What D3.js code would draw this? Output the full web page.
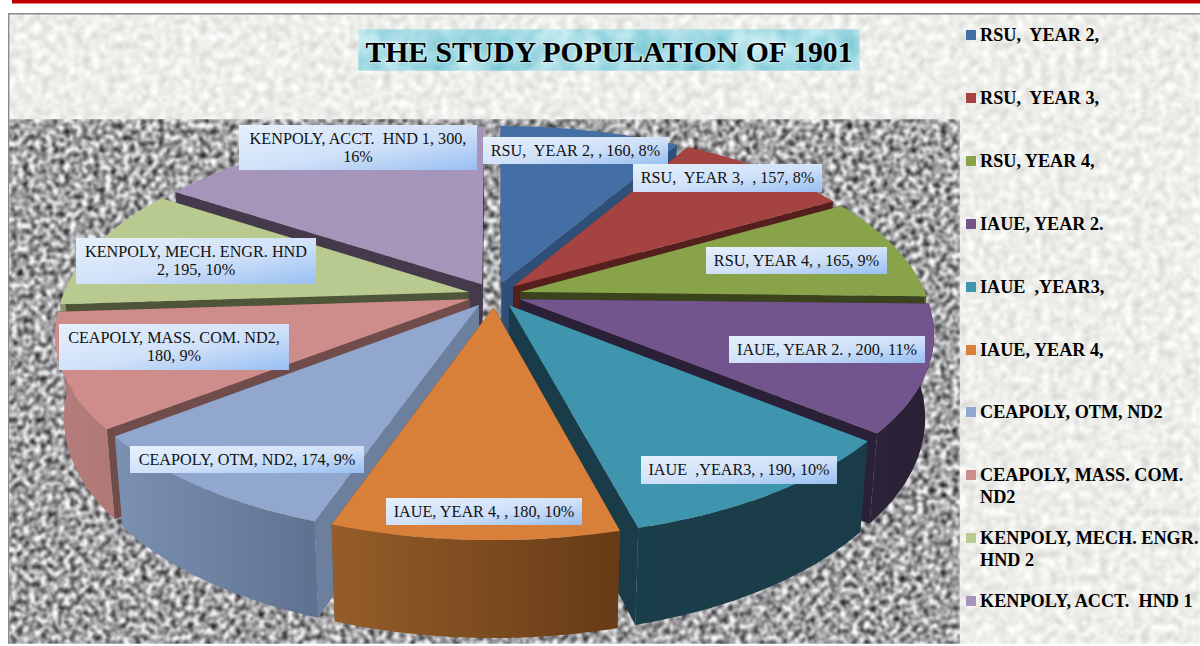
<!DOCTYPE html>
<html><head><meta charset="utf-8">
<script src="https://cdn.jsdelivr.net/npm/d3@7"></script>
<style>html,body{margin:0;padding:0;background:#fff;overflow:hidden}svg{display:block}text{white-space:pre;font-family:"Liberation Serif",serif}</style>
</head><body><div id="c"></div>
<script>
const categories=["RSU,  YEAR 2,","RSU,  YEAR 3,","RSU, YEAR 4,","IAUE, YEAR 2.","IAUE  ,YEAR3,","IAUE, YEAR 4,","CEAPOLY, OTM, ND2","CEAPOLY, MASS. COM. ND2","KENPOLY, MECH. ENGR. HND 2","KENPOLY, ACCT.  HND 1"];
const values=[160,157,165,200,190,180,174,180,195,300];
const percents=["8%","8%","9%","11%","10%","10%","9%","9%","10%","16%"];
const title="THE STUDY POPULATION OF 1901";
const legendLines=[["RSU,  YEAR 2,"],["RSU,  YEAR 3,"],["RSU, YEAR 4,"],["IAUE, YEAR 2."],["IAUE  ,YEAR3,"],["IAUE, YEAR 4,"],["CEAPOLY, OTM, ND2"],["CEAPOLY, MASS. COM.","ND2"],["KENPOLY, MECH. ENGR.","HND 2"],["KENPOLY, ACCT.  HND 1"]];
const labelLines=[["RSU,  YEAR 2, , 160, 8%"],["RSU,  YEAR 3,  , 157, 8%"],["RSU, YEAR 4, , 165, 9%"],["IAUE, YEAR 2. , 200, 11%"],["IAUE  ,YEAR3, , 190, 10%"],["IAUE, YEAR 4, , 180, 10%"],["CEAPOLY, OTM, ND2, 174, 9%"],["CEAPOLY, MASS. COM. ND2,","180, 9%"],["KENPOLY, MECH. ENGR. HND","2, 195, 10%"],["KENPOLY, ACCT.  HND 1, 300,","16%"]];
const topColors=["#436FA5","#A54340","#88A34A","#72558C","#3F94AE","#D87F39","#92A7CE","#CE8D8B","#B8CA8F","#A695BA"];
const edgeColors=["#2F4F78","#551F1D","#3A431C","#2A2037","#193C48","#6B3E18","#6C7F9C","#704C4B","#4F5638","#443A4C"];
const wallFrom=["#35598A","#7C3230","#667A37","#2C2239","#1A3E4A","#955D2A","#7B91B2","#B47C7A","#8C9A6C","#7C7090"];
const wallTo=["#2F4F78","#6B2A28","#56672E","#2A2036","#1A3C48","#673B16","#5F7190","#B07876","#7C8A5E","#6C6080"];
// layout
const W=1200,H=646,cx=494.5,cy=295,Rx=406,Ry=188,persp=.172,explode=.065,depth=80,converge=.98;
const labelBoxes=[[483,137,668,164],[633,164,822,192],[706,247,887,274],[729,336,925,363],[641,456,837,484],[386,498,582,525],[130,446,364,473],[59,324,289,370],[76,238,316,284],[239,125,477,170]];
const legendY=[35,98,161,224,287,350,412,475,538,601];

const svg=d3.select("#c").append("svg").attr("width",W).attr("height",H);
const defs=svg.append("defs");
function noise(id,freq,oct,seed,rm,gm,bm){
  const f=defs.append("filter").attr("id",id).attr("x",0).attr("y",0).attr("width","100%").attr("height","100%").attr("color-interpolation-filters","sRGB");
  f.append("feTurbulence").attr("type","fractalNoise").attr("baseFrequency",freq).attr("numOctaves",oct).attr("seed",seed);
  f.append("feColorMatrix").attr("type","matrix").attr("values",`${rm[0]} 0 0 0 ${rm[1]} ${gm[0]} 0 0 0 ${gm[1]} ${bm[0]} 0 0 0 ${bm[1]} 0 0 0 0 1`);
  f.append("feGaussianBlur").attr("stdDeviation",.8);
}
noise("paper",.12,3,4,[.26,.80],[.26,.80],[.26,.79]);
noise("grain",.17,3,9,[1.65,-.19],[1.65,-.19],[1.67,-.19]);
noise("teal",.035,3,5,[.55,.38],[.25,.74],[.2,.80]);
const lab=defs.append("linearGradient").attr("id","lab").attr("x1",0).attr("y1",0).attr("x2",1).attr("y2",1);
[[0,"#E6F0FC"],[.55,"#CFE0F8"],[1,"#97BFF2"]].forEach(s=>lab.append("stop").attr("offset",s[0]).attr("stop-color",s[1]));
categories.forEach((c,i)=>{
  const g=defs.append("linearGradient").attr("id","wall"+i).attr("x1",0).attr("y1",0).attr("x2",1).attr("y2",0);
  g.append("stop").attr("offset",0).attr("stop-color",wallFrom[i]);
  g.append("stop").attr("offset",1).attr("stop-color",wallTo[i]);
});

// page furniture
svg.append("rect").attr("x",12).attr("y",0).attr("width",W-12).attr("height",3.5).attr("fill","#C00000");
svg.append("rect").attr("x",8).attr("y",13).attr("width",W-8).attr("height",631).attr("fill","#eee").attr("filter","url(#paper)");
svg.append("path").attr("d",`M8.7,644V13.7H${W}`).attr("fill","none").attr("stroke","#8a8a8a").attr("stroke-width",1.4);
svg.append("rect").attr("x",9.5).attr("y",119).attr("width",950).attr("height",525).attr("fill","#999").attr("filter","url(#grain)");
svg.append("rect").attr("x",358).attr("y",29).attr("width",502).attr("height",42).attr("fill","#9cd").attr("filter","url(#teal)");
svg.append("text").attr("x",609).attr("y",62).attr("text-anchor","middle").attr("font-size",29.7).attr("font-weight",700).attr("fill","#000")
  .attr("stroke","#fff").attr("stroke-opacity",.3).attr("stroke-width",2.5).attr("paint-order","stroke").text(title);

// pie
const pie=d3.pie().sort(null).value(d=>d).startAngle(0).endAngle(2*Math.PI);
const arcs=pie(values);
const scaleU=d3.scaleLinear().domain([-1,1]).range([-Rx,Rx]);
const scaleV=d3.scaleLinear().domain([-1,1]).range([-Ry,Ry]);
function project(u,v,low){
  const s=1/(1-persp*v);
  const k=low?converge:1;
  return [cx+scaleU(u)*s*k, cy+scaleV(v)*s+(low?depth*s:0)];
}
const line=d3.line().curve(d3.curveLinearClosed);
const slices=arcs.map((a,i)=>{
  const mid=(a.startAngle+a.endAngle)/2;
  const ex=[explode*Math.sin(mid),-explode*Math.cos(mid)];
  const disc=(t,r)=>[ex[0]+r*Math.sin(t),ex[1]-r*Math.cos(t)];
  const ts=d3.range(0,61).map(j=>a.startAngle+(a.endAngle-a.startAngle)*j/60);
  return {i,mid,order:-Math.cos(mid),ts,disc};
}).sort((p,q)=>p.order-q.order);

const gp=svg.append("g");
slices.forEach(sl=>{
  const {i,ts,disc}=sl;
  const g=gp.append("g");
  const apex=disc(0,0), rim=ts.map(t=>disc(t,1));
  const P=(d,low)=>project(d[0],d[1],low);
  [rim[0],rim[rim.length-1]].forEach(r=>{
    g.append("path").attr("d",line([P(apex,false),P(r,false),P(r,true),P(apex,true)])).attr("fill",edgeColors[i]);
  });
  // only the part of the rim that faces the viewer has a visible outer wall
  const front=ts.filter(t=>Math.cos(t)<0).map(t=>disc(t,1));
  if(front.length>1){
    const wall=front.map(r=>P(r,false)).concat(front.slice().reverse().map(r=>P(r,true)));
    g.append("path").attr("d",line(wall)).attr("fill",`url(#wall${i})`);
  }
  g.append("path").attr("d",line([P(apex,false)].concat(rim.map(r=>P(r,false))))).attr("fill",topColors[i]);
});

// data labels
labelBoxes.forEach((b,i)=>{
  const g=svg.append("g");
  g.append("rect").attr("x",b[0]).attr("y",b[1]).attr("width",b[2]-b[0]).attr("height",b[3]-b[1]).attr("fill","url(#lab)");
  const L=labelLines[i],mx=(b[0]+b[2])/2,my=(b[1]+b[3])/2;
  L.forEach((t,j)=>g.append("text").attr("x",mx).attr("y",my+5+(j-(L.length-1)/2)*18).attr("text-anchor","middle").attr("font-size",16.2).attr("fill","#111").text(t));
});

// legend
categories.forEach((c,i)=>{
  svg.append("rect").attr("x",966).attr("y",legendY[i]-5).attr("width",10).attr("height",10).attr("fill",topColors[i]);
  legendLines[i].forEach((t,j)=>svg.append("text").attr("x",980).attr("y",legendY[i]+5.5+j*22).attr("font-size",18.2).attr("font-weight",700).attr("fill","#000").text(t));
});
</script></body></html>
